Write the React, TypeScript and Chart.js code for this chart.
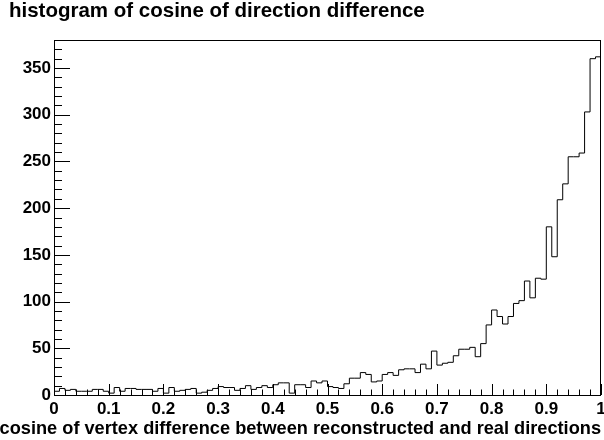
import React, { useEffect, useRef } from 'react';
import { Chart, registerables } from 'chart.js';

Chart.register(...registerables);

// Histogram range and per-bin counts (100 bins over [0, 1])
const binLow = 0;
const binHigh = 1;
const counts = [
  4, 7, 5, 6, 4, 4, 4, 6, 6, 4,
  2, 8, 4, 7, 7, 6, 6, 6, 4, 7,
  2, 8, 4, 5, 6, 7, 2, 3, 5, 7,
  9, 8, 8, 5, 7, 10, 6, 8, 10, 8,
  11, 13, 13, 2, 11, 11, 8, 15, 13, 15,
  9, 8, 7, 12, 18, 18, 24, 22, 14, 15,
  22, 24, 21, 27, 28, 28, 24, 33, 28, 47,
  32, 34, 35, 42, 49, 49, 51, 41, 55, 75,
  91, 84, 76, 84, 98, 101, 122, 104, 125, 124,
  180, 148, 209, 226, 255, 255, 259, 303, 360, 362,
];

// Axis settings
const yMax = 380;
const xMajorStep = 0.1;
const xMinorDiv = 5;
const yMajorStep = 50;
const yMinorDiv = 5;

const chartTitle = 'histogram of cosine of direction difference';
const xTitle = 'cosine of vertex difference between reconstructed and real directions';

const FONT = '"Liberation Sans", Arial, Helvetica, sans-serif';

// Inward tick marks, frame, histogram title and the right-aligned x-axis title (ROOT style)
const frameAndTicks = {
  id: 'frameAndTicks',
  afterDatasetsDraw(chart: any) {
    const { ctx, chartArea: a, scales } = chart;
    const x = scales.x;
    const y = scales.y;
    ctx.save();
    ctx.strokeStyle = '#000';
    ctx.lineWidth = 1;
    ctx.beginPath();
    const xMinor = xMajorStep / xMinorDiv;
    const nx = Math.round((binHigh - binLow) / xMinor);
    for (let i = 0; i <= nx; i++) {
      const px = Math.round(x.getPixelForValue(binLow + i * xMinor)) + 0.5;
      const len = i % xMinorDiv === 0 ? 11 : 5.5;
      ctx.moveTo(px, a.bottom);
      ctx.lineTo(px, a.bottom - len);
    }
    const yMinor = yMajorStep / yMinorDiv;
    for (let i = 0; i * yMinor <= yMax; i++) {
      const py = Math.round(y.getPixelForValue(i * yMinor)) + 0.5;
      const len = i % yMinorDiv === 0 ? 16 : 8;
      ctx.moveTo(a.left, py);
      ctx.lineTo(a.left + len, py);
    }
    ctx.stroke();
    ctx.strokeRect(
      Math.round(a.left) + 0.5,
      Math.round(a.top) + 0.5,
      Math.round(a.right - a.left) - 1,
      Math.round(a.bottom - a.top)
    );
    ctx.fillStyle = '#000';
    ctx.textBaseline = 'alphabetic';
    ctx.font = `bold 20.5px ${FONT}`;
    ctx.textAlign = 'left';
    ctx.fillText(chartTitle, 9, 17);
    ctx.font = `bold 18.2px ${FONT}`;
    ctx.textAlign = 'right';
    ctx.fillText(xTitle, a.right, 434);
    ctx.restore();
  },
};

export default function App() {
  const canvasRef = useRef<HTMLCanvasElement | null>(null);

  useEffect(() => {
    const canvas = canvasRef.current;
    if (!canvas) return;
    const binWidth = (binHigh - binLow) / counts.length;
    const points = [{ x: binLow, y: 0 }];
    counts.forEach((c, i) => points.push({ x: binLow + i * binWidth, y: c }));
    points.push({ x: binHigh, y: 0 });

    const chart = new Chart(canvas, {
      type: 'line',
      data: {
        datasets: [
          {
            data: points,
            stepped: 'before',
            borderColor: '#000',
            borderWidth: 1,
            pointRadius: 0,
            fill: false,
          },
        ],
      },
      plugins: [frameAndTicks],
      options: {
        animation: false,
        responsive: false,
        devicePixelRatio: 1,
        layout: { padding: { left: 0, right: 3, top: 40, bottom: 0 } },
        plugins: {
          legend: { display: false },
          tooltip: { enabled: false },
          title: { display: false },
        },
        scales: {
          x: {
            type: 'linear',
            min: binLow,
            max: binHigh,
            grid: { display: false, drawTicks: false },
            border: { display: false },
            ticks: {
              stepSize: xMajorStep,
              padding: 4,
              color: '#000',
              maxRotation: 0,
              autoSkip: false,
              font: { family: FONT, size: 17, weight: 'bold' },
              callback: (v: any) => String(Math.round(Number(v) * 10) / 10),
            },
            title: { display: false },
            afterFit: (s: any) => {
              s.height = 45;
              s.paddingLeft = 0;
              s.paddingRight = 0;
            },
          },
          y: {
            type: 'linear',
            min: 0,
            max: yMax,
            grid: { display: false, drawTicks: false },
            border: { display: false },
            ticks: {
              stepSize: yMajorStep,
              padding: 3,
              color: '#000',
              font: { family: FONT, size: 17, weight: 'bold' },
            },
            afterBuildTicks: (s: any) => {
              s.ticks = s.ticks.filter((t: any) => t.value % yMajorStep === 0);
            },
            afterFit: (s: any) => {
              s.width = 54;
              s.paddingTop = 0;
              s.paddingBottom = 0;
            },
          },
        },
      },
    });
    return () => chart.destroy();
  }, []);

  return (
    <div style={{ position: 'fixed', left: 0, top: 0, width: 604, height: 440, background: '#fff' }}>
      <canvas ref={canvasRef} width={604} height={440} style={{ display: 'block' }} />
    </div>
  );
}
